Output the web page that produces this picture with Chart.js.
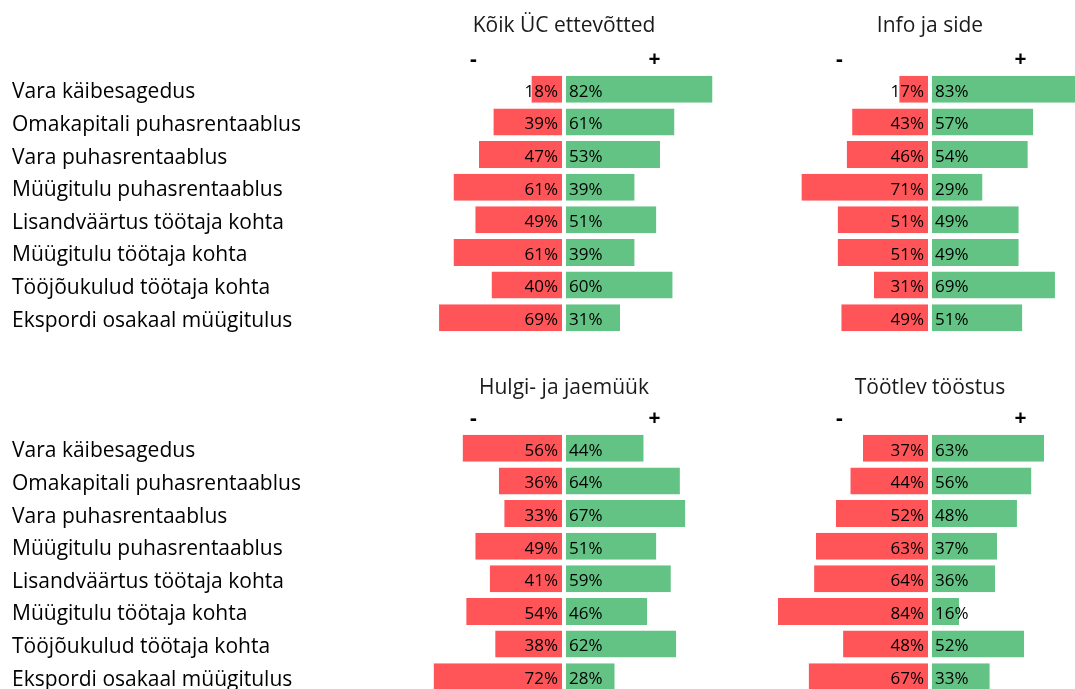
<!DOCTYPE html>
<html>
<head>
<meta charset="utf-8">
<script src="https://cdn.jsdelivr.net/npm/chart.js@4"></script>
<style>
  html, body { margin: 0; padding: 0; background: #fff; overflow: hidden; }
  body { position: relative; width: 1075px; height: 689px; }
  canvas { position: absolute; }
</style>
</head>
<body>
<canvas id="allChart" width="727" height="334" style="left:0;top:0"></canvas>
<canvas id="infoChart" width="326" height="334" style="left:767px;top:0"></canvas>
<canvas id="tradeChart" width="727" height="331" style="left:0;top:362px"></canvas>
<canvas id="industryChart" width="326" height="331" style="left:767px;top:362px"></canvas>
<script>
// ---- DATA ----
const categories = [
  "Vara käibesagedus",
  "Omakapitali puhasrentaablus",
  "Vara puhasrentaablus",
  "Müügitulu puhasrentaablus",
  "Lisandväärtus töötaja kohta",
  "Müügitulu töötaja kohta",
  "Tööjõukulud töötaja kohta",
  "Ekspordi osakaal müügitulus"
];
const tickLabels = ["-", "+"];

const allMinus = [18, 39, 47, 61, 49, 61, 40, 69];
const allPlus = [82, 61, 53, 39, 51, 39, 60, 31];
const infoMinus = [17, 43, 46, 71, 51, 51, 31, 49];
const infoPlus = [83, 57, 54, 29, 49, 49, 69, 51];
const tradeMinus = [56, 36, 33, 49, 41, 54, 38, 72];
const tradePlus = [44, 64, 67, 51, 59, 46, 62, 28];
const industryMinus = [37, 44, 52, 63, 64, 84, 48, 67];
const industryPlus = [63, 56, 48, 37, 36, 16, 52, 33];

const RED = "#FF5559";
const GREEN = "#63C384";
const FONT = "'Open Sans', sans-serif";

// === percent labels next to the zero line ===
const valueLabels = {
  id: "valueLabels",
  afterDatasetsDraw(chart) {
    const ctx = chart.ctx;
    ctx.save();
    ctx.font = "17px " + FONT;
    ctx.fillStyle = "#000";
    ctx.textBaseline = "middle";
    chart.data.datasets.forEach((ds, i) => {
      chart.getDatasetMeta(i).data.forEach((bar, j) => {
        const v = ds.data[j];
        const neg = v < 0;
        ctx.textAlign = neg ? "right" : "left";
        ctx.fillText(Math.abs(v) + "%", bar.base + (neg ? -6 : 5), bar.y + 2.5);
      });
    });
    ctx.restore();
  }
};

// ---- one panel ----
function makePanel(id, title, minus, plus, withLabels, axisHeight) {
  const ctx = document.getElementById(id).getContext("2d");
  new Chart(ctx, {
    type: "bar",
    data: {
      labels: categories,
      datasets: [
        {
          label: "-",
          data: minus.map(v => -v),
          backgroundColor: RED,
          borderColor: "#ffffff",
          borderWidth: { right: 2 },
          borderSkipped: false
        },
        {
          label: "+",
          data: plus,
          backgroundColor: GREEN,
          borderColor: "#ffffff",
          borderWidth: { left: 2 },
          borderSkipped: false
        }
      ]
    },
    options: {
      indexAxis: "y",
      responsive: false,
      animation: false,
      layout: { padding: { left: withLabels ? 12 : 0, right: 0, top: 0, bottom: 0 } },
      datasets: { bar: { barPercentage: 1, categoryPercentage: 0.83 } },
      plugins: {
        legend: { display: false },
        tooltip: { enabled: false }
      },
      scales: {
        x: {
          position: "top",
          stacked: true,
          min: -90,
          max: 90,
          grid: { display: false, drawTicks: false },
          border: { display: false },
          afterBuildTicks: scale => { scale.ticks = [{ value: -50 }, { value: 50 }]; },
          afterFit: scale => { scale.height = axisHeight; },
          ticks: {
            autoSkip: false,
            maxRotation: 0,
            padding: 0,
            color: "#000",
            font: { family: FONT, size: 21, weight: "700" },
            callback: v => (v < 0 ? tickLabels[0] : tickLabels[1])
          },
          title: {
            display: true,
            text: title,
            color: "#1a1a1a",
            font: { family: FONT, size: 21 },
            padding: { top: 13, bottom: 0 }
          }
        },
        y: {
          display: withLabels,
          stacked: true,
          grid: { display: false, drawTicks: false },
          border: { display: false },
          // hidden axis must stay at zero width
          afterFit: scale => {
            scale.width = withLabels ? 389 : 0;
            scale.paddingTop = 0;
            scale.paddingBottom = 0;
          },
          ticks: {
            crossAlign: "far",
            labelOffset: 3,
            color: "#000",
            font: { family: FONT, size: 21 }
          }
        }
      }
    },
    plugins: [valueLabels]
  });
}

// ---- INITIALIZER ----
makePanel("allChart", "Kõik ÜC ettevõtted", allMinus, allPlus, true, 73);
makePanel("infoChart", "Info ja side", infoMinus, infoPlus, false, 73);
makePanel("tradeChart", "Hulgi- ja jaemüük", tradeMinus, tradePlus, true, 70);
makePanel("industryChart", "Töötlev tööstus", industryMinus, industryPlus, false, 70);
</script>
</body>
</html>
